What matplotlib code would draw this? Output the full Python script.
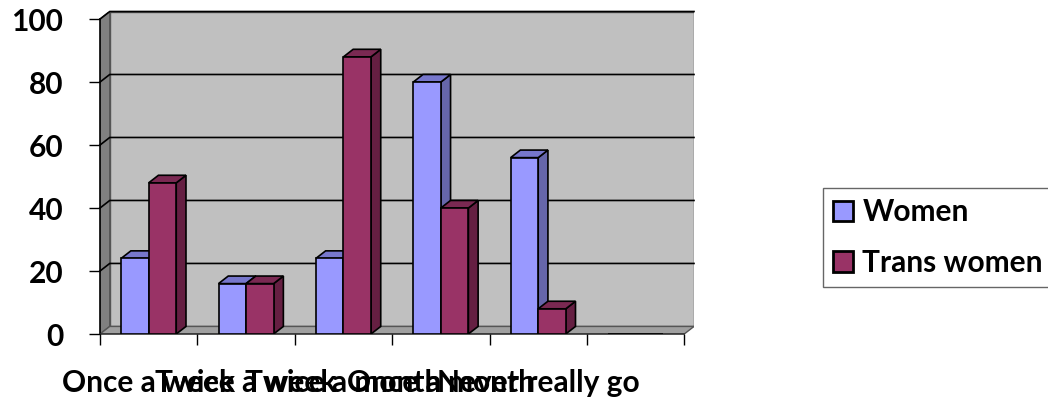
import numpy as np
import matplotlib
matplotlib.use('Agg')
import matplotlib.pyplot as plt
from matplotlib.patches import Polygon, Patch

plt.rcParams['font.family'] = ['Lato', 'DejaVu Sans']
plt.rcParams['font.weight'] = 'bold'

categories = ['Once a week', 'Twice a week', 'Twice a month',
              'Once a month', 'Never really go', '']
women = [24, 16, 24, 80, 56, 0]
trans_women = [48, 16, 88, 40, 8, 0]
series_names = ['Women', 'Trans women']
y_ticks = [0, 20, 40, 60, 80, 100]

# colours of the 3d faces: front, side, top
women_cols = ('#9999FF', '#6666AA', '#7777CC')
trans_cols = ('#993366', '#651F42', '#7A2952')

dx, dy = 0.1, 2.4  # depth offset (x in categories, y in data units)
w = 0.283

fig = plt.figure(figsize=(10.48, 4.03), dpi=100)
ax = fig.add_axes([100/1048, 1 - 334/403, 594/1048, 322.5/403])
ax.set_xlim(0, len(categories) + dx)
ax.set_ylim(0, 100 + dy)
ax.patch.set_visible(False)
for s in ax.spines.values():
    s.set_visible(False)

n = len(categories)
# walls
ax.add_patch(Polygon([(dx, dy), (n + dx, dy), (n + dx, 100 + dy), (dx, 100 + dy)],
                     closed=True, fc='#C0C0C0', ec='#555555', lw=1, zorder=0))
ax.add_patch(Polygon([(0, 0), (dx, dy), (dx, 100 + dy), (0, 100)],
                     closed=True, fc='#808080', ec='#555555', lw=1, zorder=0))
ax.add_patch(Polygon([(0, 0), (n, 0), (n + dx, dy), (dx, dy)],
                     closed=True, fc='#A0A0A0', ec='#555555', lw=1, zorder=0))
for v in y_ticks[1:]:
    ax.plot([0, dx, n + dx], [v, v + dy, v + dy], color='black', lw=1.2, zorder=1,
            clip_on=False)
ax.plot([0, 0], [0, 100], color='black', lw=1.2, zorder=1, clip_on=False)
ax.plot([0, n], [0, 0], color='#333333', lw=1.2, zorder=1, clip_on=False)


def bars3d(xs, vals, cols, z):
    ax.bar(xs, vals, width=w, align='edge', color=cols[0], edgecolor='black',
           lw=1.2, zorder=z + 1)
    for x, v in zip(xs, vals):
        if v <= 0:
            continue
        ax.add_patch(Polygon([(x + w, 0), (x + w + dx, dy), (x + w + dx, v + dy), (x + w, v)],
                             closed=True, fc=cols[1], ec='black', lw=1.2, zorder=z))
        ax.add_patch(Polygon([(x, v), (x + dx, v + dy), (x + w + dx, v + dy), (x + w, v)],
                             closed=True, fc=cols[2], ec='black', lw=1.2, zorder=z))


centers = np.arange(n) + 0.5
bars3d(centers - w, women, women_cols, 2)
bars3d(centers, trans_women, trans_cols, 4)

ax.set_yticks(y_ticks)
ax.set_yticklabels([str(t) for t in y_ticks])
ax.tick_params(axis='y', direction='out', length=8, width=1, pad=18.5,
               labelsize=21.5, color='black')
ax.set_xticks(np.arange(n + 1))
ax.set_xticklabels([])
ax.set_xticks(centers, minor=True)
ax.set_xticklabels(categories, minor=True)
ax.tick_params(axis='x', which='major', direction='out', length=8, width=1, color='black')
ax.tick_params(axis='x', which='minor', length=0, pad=25, labelsize=21.5)

handles = [Patch(fc=women_cols[0], ec='black', lw=2),
           Patch(fc=trans_cols[0], ec='black', lw=2)]
leg = fig.legend(handles, series_names, loc='upper left',
                 bbox_to_anchor=(823/1048, 1 - 188/403), fontsize=21.5,
                 handlelength=0.67, handleheight=0.67, handletextpad=0.3,
                 borderpad=0.35, labelspacing=0.75, borderaxespad=0,
                 fancybox=False, frameon=True)
leg.get_frame().set_edgecolor('#404040')
leg.get_frame().set_linewidth(1)

fig.savefig('out.png', dpi=100)
